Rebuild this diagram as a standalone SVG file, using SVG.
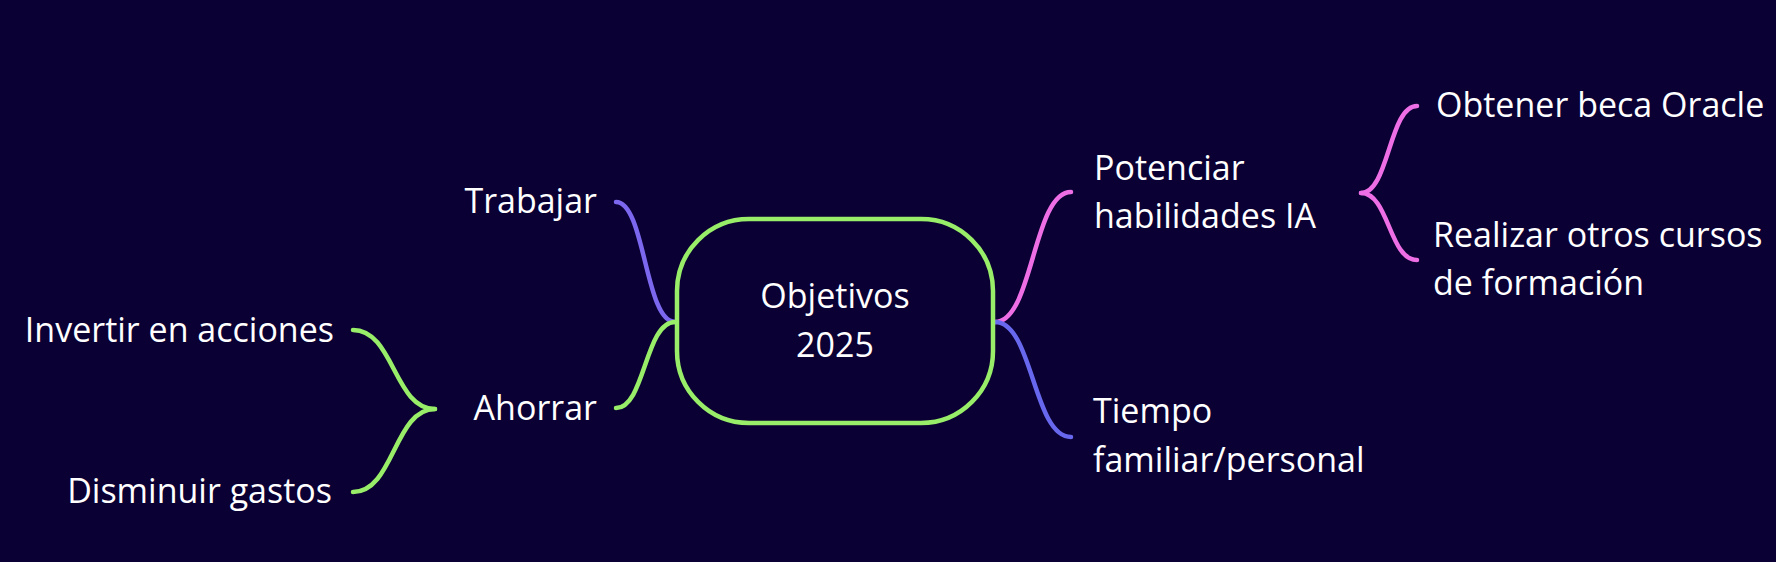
<svg xmlns="http://www.w3.org/2000/svg" width="1776" height="562" viewBox="0 0 1776 562">
<style>
.t{font-family:"Open Sans","Noto Sans","Liberation Sans",sans-serif;font-size:34px;fill:#ffffff}
.e{text-anchor:end}
.m{text-anchor:middle}
.c{fill:none;stroke-width:4.5;stroke-linecap:round}
.g{stroke:#98ee68}
.p{stroke:#7b68ee}
.k{stroke:#ee6ee6}
.b{stroke:#6868ee}
</style>
<rect width="1776" height="562" fill="#0a0033"/>
<g id="connectors">
<path class="c p" d="M616 202 C645 202 645 322 675 322"/>
<path class="c g" d="M616 408 C645 408 645 322 675 322"/>
<path class="c g" d="M353 330 C394 330 394 409 435 409"/>
<path class="c g" d="M353 492 C394 492 394 409 435 409"/>
<path class="c k" d="M995 322 C1033 322 1033 192 1071 192"/>
<path class="c b" d="M995 322 C1033 322 1033 437 1071 437"/>
<path class="c k" d="M1361 193 C1389 193 1389 106 1417 106"/>
<path class="c k" d="M1361 193 C1389 193 1389 260 1417 260"/>
</g>
<g id="root">
<rect x="677" y="219" width="316" height="204" rx="72" ry="72" fill="#0a0033" stroke="#98ee68" stroke-width="4.5"/>
<text class="t m" x="835" y="308">Objetivos</text>
<text class="t m" x="835" y="357">2025</text>
</g>
<g id="trabajar"><text class="t e" x="597" y="213">Trabajar</text></g>
<g id="ahorrar"><text class="t e" x="597" y="420">Ahorrar</text></g>
<g id="invertir"><text class="t e" x="334" y="342">Invertir en acciones</text></g>
<g id="disminuir"><text class="t e" x="332" y="503">Disminuir gastos</text></g>
<g id="potenciar"><text class="t" x="1094" y="180">Potenciar</text><text class="t" x="1094" y="228">habilidades IA</text></g>
<g id="tiempo"><text class="t" x="1093" y="423">Tiempo</text><text class="t" x="1093" y="472">familiar/personal</text></g>
<g id="obtener"><text class="t" x="1436" y="117">Obtener beca Oracle</text></g>
<g id="realizar"><text class="t" x="1433" y="247">Realizar otros cursos</text><text class="t" x="1433" y="295">de formación</text></g>
</svg>
